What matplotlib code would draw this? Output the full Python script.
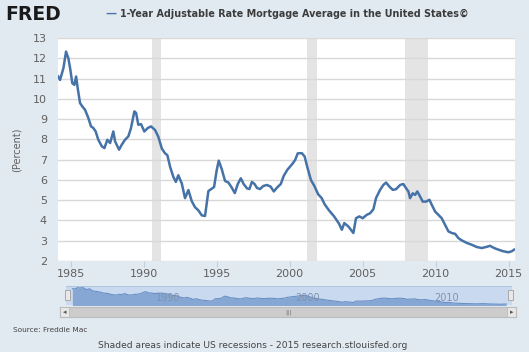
import matplotlib
matplotlib.use('Agg')
import matplotlib.pyplot as plt
from matplotlib.patches import Rectangle

# 1-Year ARM average (decimal years, percent)
anos = [1984.16, 1984.28, 1984.51, 1984.69, 1984.85, 1984.97, 1985.12, 1985.26, 1985.38, 1985.49,
        1985.65, 1985.81, 1985.99, 1986.22, 1986.40, 1986.56, 1986.72, 1986.90, 1987.14, 1987.32,
        1987.52, 1987.71, 1987.93, 1988.05, 1988.32, 1988.51, 1988.73, 1988.96, 1989.14, 1989.37,
        1989.49, 1989.64, 1989.83, 1990.05, 1990.29, 1990.51, 1990.79, 1991.01, 1991.25, 1991.47,
        1991.63, 1991.82, 1992.04, 1992.21, 1992.38, 1992.62, 1992.84, 1993.07, 1993.30, 1993.53,
        1993.75, 1993.99, 1994.21, 1994.44, 1994.67, 1994.83, 1995.01, 1995.15, 1995.36, 1995.58,
        1995.81, 1996.04, 1996.25, 1996.45, 1996.66, 1996.86, 1997.09, 1997.25, 1997.42, 1997.60,
        1997.77, 1997.98, 1998.20, 1998.45, 1998.70, 1998.92, 1999.14, 1999.40, 1999.60, 1999.85,
        2000.18, 2000.38, 2000.56, 2000.84, 2001.03, 2001.22, 2001.46, 2001.70, 2001.95, 2002.20,
        2002.40, 2002.70, 2003.05, 2003.38, 2003.58, 2003.75, 2004.03, 2004.30, 2004.37, 2004.55,
        2004.78, 2005.01, 2005.29, 2005.51, 2005.74, 2005.92, 2006.20, 2006.42, 2006.61, 2006.84,
        2007.07, 2007.29, 2007.57, 2007.79, 2007.98, 2008.14, 2008.25, 2008.44, 2008.60, 2008.75,
        2008.94, 2009.12, 2009.35, 2009.58, 2009.74, 2009.97, 2010.19, 2010.42, 2010.65, 2010.88,
        2011.11, 2011.34, 2011.56, 2011.79, 2012.14, 2012.48, 2012.82, 2013.16, 2013.46, 2013.73,
        2014.01, 2014.30, 2014.64, 2014.99, 2015.22, 2015.38]
taxas = [11.10, 10.93, 11.51, 12.33, 12.00, 11.51, 10.77, 10.69, 11.10, 10.52,
         9.79, 9.62, 9.46, 9.05, 8.64, 8.56, 8.39, 7.98, 7.66, 7.57,
         7.98, 7.82, 8.39, 7.90, 7.49, 7.74, 7.98, 8.15, 8.56, 9.38,
         9.30, 8.72, 8.75, 8.39, 8.56, 8.64, 8.46, 8.13, 7.55, 7.31,
         7.22, 6.64, 6.15, 5.90, 6.23, 5.82, 5.10, 5.50, 4.95, 4.65,
         4.50, 4.25, 4.22, 5.45, 5.57, 5.65, 6.48, 6.95, 6.52, 5.95,
         5.87, 5.62, 5.35, 5.79, 6.08, 5.79, 5.58, 5.55, 5.90, 5.80,
         5.60, 5.55, 5.70, 5.75, 5.67, 5.43, 5.62, 5.80, 6.20, 6.50,
         6.78, 6.98, 7.31, 7.32, 7.16, 6.62, 6.00, 5.70, 5.30, 5.10,
         4.80, 4.50, 4.20, 3.85, 3.54, 3.87, 3.70, 3.44, 3.38, 4.11,
         4.20, 4.11, 4.28, 4.35, 4.55, 5.10, 5.51, 5.75, 5.87, 5.67,
         5.51, 5.54, 5.75, 5.80, 5.59, 5.43, 5.10, 5.34, 5.26, 5.43,
         5.18, 4.93, 4.93, 5.02, 4.77, 4.44, 4.28, 4.11, 3.79, 3.46,
         3.38, 3.34, 3.13, 3.02, 2.89, 2.80, 2.69, 2.64, 2.69, 2.75,
         2.64, 2.56, 2.48, 2.43, 2.48, 2.56]

# recessoes (inicio, fim)
recessoes = [(1990.58, 1991.21), (2001.17, 2001.88), (2007.92, 2009.46)]
anos_ticks = [1985, 1990, 1995, 2000, 2005, 2010, 2015]
nav_labels = [1990, 2000, 2010]

fundo = '#E1E9F1'
azul = '#4572A7'
cinza_txt = '#606060'

fig = plt.figure(figsize=(5.29, 3.52), dpi=100)
fig.patch.set_facecolor(fundo)

# grafico principal
ax = fig.add_axes([58/529, 1 - 261/352, (515 - 58)/529, (261 - 38)/352])
ax.set_facecolor('white')
for ini, fim in recessoes:
    ax.axvspan(ini, fim, color='#E4E4E4', lw=0, zorder=0)
ax.plot(anos, taxas, color=azul, lw=1.8, zorder=3)
ax.set_xlim(1984.14, 2015.44)
ax.set_ylim(2, 13)
ax.set_yticks(range(2, 14))
ax.set_xticks(anos_ticks)
ax.grid(axis='y', color='#D8D8D8', lw=1)
ax.set_axisbelow(True)
for s in ax.spines.values():
    s.set_visible(False)
ax.tick_params(axis='y', length=0, labelsize=8, labelcolor=cinza_txt, pad=8)
ax.tick_params(axis='x', length=4, color='#C0D0E0', labelsize=8, labelcolor=cinza_txt, pad=2)
ax.set_ylabel('(Percent)', fontsize=7, color=cinza_txt, labelpad=8)

# navegador
nav = fig.add_axes([66/529, 1 - 305/352, (512 - 66)/529, 19/352])
nav.set_facecolor('#C9DAF0')
nav.fill_between(anos, taxas, 0, color='#86A7D4', lw=0)
nav.plot(anos, taxas, color='#6A8FC4', lw=0.8)
nav.set_xlim(1983.7, 2015.8)
nav.set_ylim(2.0, 12.6)
nav.set_xticks([])
nav.set_yticks([])
for s in nav.spines.values():
    s.set_visible(False)
nav.axhline(12.6, color='#B0C4DE', lw=1.5)
for a in nav_labels:
    nav.text(a + 0.2, 0.35, str(a), transform=nav.get_xaxis_transform(),
             fontsize=7, color='#7F93AD', va='center')
# alcas
for xh in [0.004, 0.996]:
    nav.add_patch(Rectangle((xh - 0.006, 0.25), 0.012, 0.55, transform=nav.transAxes,
                            facecolor='#EBE7E8', edgecolor='#A0A0A0', lw=0.6, clip_on=False))

# barra de rolagem
sb = fig.add_axes([60/529, 1 - 317/352, (516 - 60)/529, 10/352])
sb.set_facecolor('#CCCCCC')
sb.set_xticks([])
sb.set_yticks([])
for s in sb.spines.values():
    s.set_color('#BBBBBB')
sb.add_patch(Rectangle((0, 0), 0.02, 1, transform=sb.transAxes, facecolor='#E8E8E8', edgecolor='#BBBBBB', lw=0.6))
sb.add_patch(Rectangle((0.98, 0), 0.02, 1, transform=sb.transAxes, facecolor='#E8E8E8', edgecolor='#BBBBBB', lw=0.6))
sb.text(0.01, 0.5, '◂', transform=sb.transAxes, ha='center', va='center', fontsize=5, color='#555555')
sb.text(0.99, 0.5, '▸', transform=sb.transAxes, ha='center', va='center', fontsize=5, color='#555555')
sb.text(0.5, 0.5, '|||', transform=sb.transAxes, ha='center', va='center', fontsize=4.5, color='#777777')

# cabecalho
fig.text(5/529, 1 - 14/352, 'FRED', fontsize=13.5, fontweight='heavy', color='#1A1A1A', va='center')
fig.text(105/529, 1 - 14/352, '—', fontsize=8, color=azul, fontweight='bold', va='center')
fig.text(120/529, 1 - 14/352, '1-Year Adjustable Rate Mortgage Average in the United States©',
         fontsize=6.9, fontweight='bold', color='#3C3C3C', va='center')

# rodape
fig.text(13/529, 1 - 330/352, 'Source: Freddie Mac', fontsize=5.3, color='#444444', va='center')
fig.text(253/529, 1 - 345/352, 'Shaded areas indicate US recessions - 2015 research.stlouisfed.org',
         fontsize=6.6, color='#444444', va='center', ha='center')

fig.savefig('out.png', dpi=100, facecolor=fundo)
